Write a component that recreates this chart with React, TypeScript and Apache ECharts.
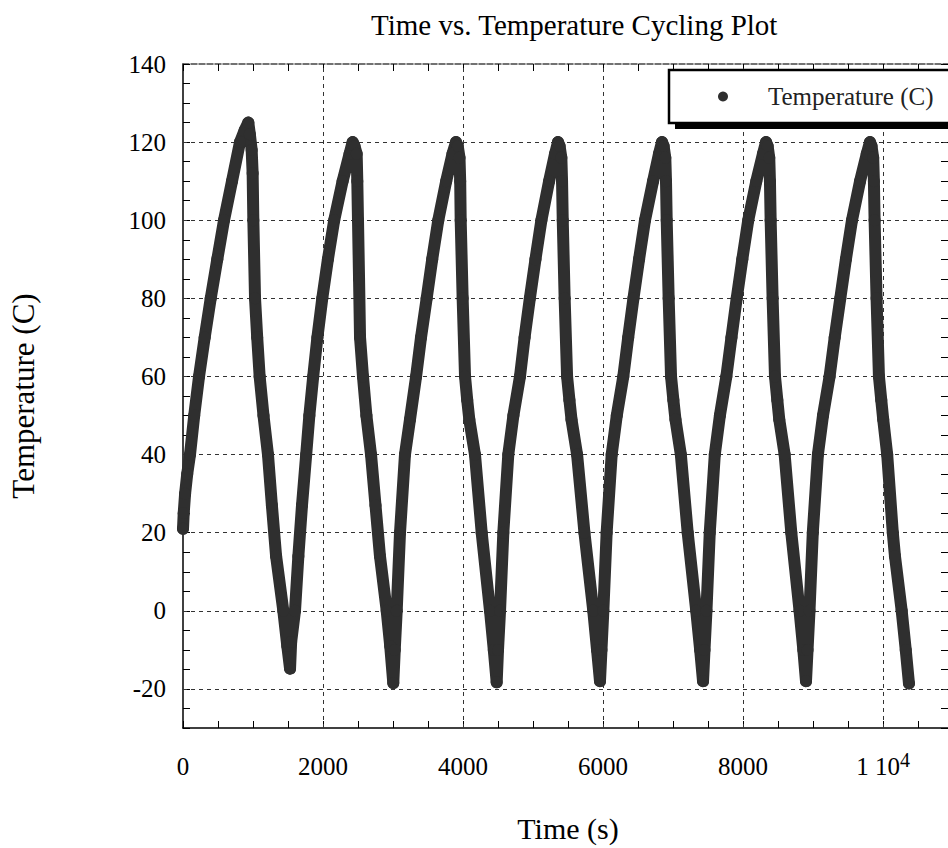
import React, { useEffect, useRef } from "react";
import * as echarts from "echarts";

const FONT = "'Liberation Serif', 'Times New Roman', Times, serif";

// [time (s), temperature (C)], one array per cycle
const cycle1: [number, number][] = [
  [0, 21], [10, 25], [30, 30], [60, 35], [100, 40], [160, 50], [229, 60], [310, 70],
  [396, 80], [490, 90], [586, 100], [700, 110], [814, 120], [880, 123], [933, 125],
  [955, 122], [981, 118], [995, 112], [1005, 100], [1029, 80], [1060, 70], [1095, 60],
  [1150, 50], [1214, 40], [1270, 27], [1330, 14], [1433, 0], [1490, -9], [1529, -14.8],
];
const cycle2: [number, number][] = [
  [1545, -8], [1600, 0], [1648, 14], [1700, 27], [1760, 40], [1805, 50], [1860, 60],
  [1920, 70], [1990, 80], [2070, 90], [2160, 100], [2280, 110], [2380, 117], [2424, 120],
  [2450, 119], [2481, 117], [2490, 110], [2500, 100], [2515, 85], [2529, 70], [2571, 60],
  [2620, 50], [2686, 40], [2750, 27], [2814, 14], [2910, 0], [2960, -9], [3004, -18.5],
];
const cycle3: [number, number][] = [
  [3025, -10], [3053, 0], [3100, 20], [3171, 40], [3243, 49], [3330, 60], [3400, 70],
  [3481, 80], [3560, 90], [3647, 100], [3760, 110], [3850, 117], [3900, 120], [3925, 119],
  [3950, 116], [3960, 110], [3967, 100], [3995, 80], [4029, 60], [4060, 54], [4090, 49],
  [4171, 40], [4267, 20], [4386, 0], [4440, -10], [4481, -18.3],
];
const cycle4: [number, number][] = [
  [4500, -10], [4529, 0], [4576, 20], [4647, 40], [4720, 50], [4814, 60], [4880, 70],
  [4955, 80], [5035, 90], [5120, 100], [5230, 110], [5315, 117], [5357, 120], [5380, 119],
  [5405, 116], [5415, 110], [5425, 100], [5452, 80], [5487, 60], [5520, 54], [5550, 49],
  [5630, 40], [5735, 20], [5861, 0], [5915, -10], [5957, -18],
];
const cycle5: [number, number][] = [
  [5978, -10], [6005, 0], [6052, 20], [6124, 40], [6197, 50], [6290, 60], [6360, 70],
  [6435, 80], [6515, 90], [6600, 100], [6715, 110], [6800, 117], [6843, 120], [6866, 119],
  [6890, 116], [6900, 110], [6910, 100], [6938, 80], [6972, 60], [7005, 54], [7035, 49],
  [7112, 40], [7210, 20], [7332, 0], [7388, -10], [7429, -18],
];
const cycle6: [number, number][] = [
  [7450, -10], [7478, 0], [7525, 20], [7597, 40], [7670, 50], [7762, 60], [7835, 70],
  [7910, 80], [7990, 90], [8075, 100], [8190, 110], [8285, 117], [8329, 120], [8352, 119],
  [8375, 116], [8385, 110], [8395, 100], [8423, 80], [8457, 60], [8490, 54], [8518, 49],
  [8595, 40], [8690, 20], [8808, 0], [8862, -10], [8900, -18],
];
const cycle7: [number, number][] = [
  [8922, -10], [8950, 0], [8997, 20], [9070, 40], [9143, 50], [9237, 60], [9310, 70],
  [9390, 80], [9470, 90], [9557, 100], [9672, 110], [9768, 117], [9814, 120], [9836, 119],
  [9860, 116], [9870, 110], [9880, 100], [9908, 80], [9942, 60], [9975, 54], [10003, 49],
  [10060, 40], [10140, 20], [10171, 14], [10267, 0], [10325, -10], [10371, -18.6],
];

const temperatureData = [...cycle1, ...cycle2, ...cycle3, ...cycle4, ...cycle5, ...cycle6, ...cycle7];

const xLabelTicks = [0, 2000, 4000, 6000, 8000, 10000];
const yLabelTicks = [-20, 0, 20, 40, 60, 80, 100, 120, 140];
const xGridLines = [2000, 4000, 6000, 8000, 10000];
const yGridLines = [-20, 0, 20, 40, 60, 80, 100, 120];

const SERIES_NAME = "Temperature (C)";
const DOT = "#2f2f2f";

export default function App() {
  const ref = useRef<HTMLDivElement>(null);

  useEffect(() => {
    if (!ref.current) return;
    const chart = echarts.init(ref.current, undefined, { renderer: "svg" });
    const tickBase = { show: true, inside: true, length: 7, lineStyle: { color: "#000", width: 1 } };
    const option: any = {
      animation: false,
      backgroundColor: "#fff",
      title: {
        text: "Time vs. Temperature Cycling Plot",
        left: 366,
        top: 5,
        textStyle: { fontFamily: FONT, fontSize: 29, fontWeight: "normal", color: "#000" },
      },
      legend: {
        data: [SERIES_NAME],
        left: 718,
        top: 84,
        padding: 0,
        icon: "circle",
        itemWidth: 10,
        itemHeight: 10,
        selectedMode: false,
        z: 10,
        textStyle: { fontFamily: FONT, fontSize: 25, color: "#222", padding: [0, 0, 0, 35] },
      },
      graphic: [
        { type: "rect", z: 5, shape: { x: 675, y: 76, width: 320, height: 53 }, style: { fill: "#000" } },
        { type: "rect", z: 6, shape: { x: 669, y: 70, width: 320, height: 53 }, style: { fill: "#fff", stroke: "#000", lineWidth: 2.5 } },
      ],
      grid: { left: 183, top: 64, width: 770, height: 667, containLabel: false },
      xAxis: [
        {
          type: "value",
          min: 0,
          max: 11000,
          interval: 500,
          name: "Time (s)",
          nameLocation: "middle",
          nameGap: 85,
          nameTextStyle: { fontFamily: FONT, fontSize: 30, color: "#000" },
          axisLine: { show: true, onZero: false, lineStyle: { color: "#000", width: 1.5 } },
          axisTick: tickBase,
          splitLine: { show: false },
          axisLabel: {
            margin: 22,
            fontFamily: FONT,
            fontSize: 25,
            lineHeight: 33,
            color: "#000",
            formatter: (v: number) =>
              xLabelTicks.includes(v) ? (v === 10000 ? "1 10{sup|4}" : String(v)) : "",
            rich: { sup: { fontFamily: FONT, fontSize: 20, lineHeight: 20, color: "#000", verticalAlign: "top" } },
          },
        },
        {
          type: "value",
          position: "top",
          min: 0,
          max: 11000,
          interval: 500,
          axisLine: { show: true, onZero: false, lineStyle: { color: "#444", width: 1.5, type: [6, 2] } },
          axisTick: tickBase,
          axisLabel: { show: false },
          splitLine: { show: false },
        },
      ],
      yAxis: [
        {
          type: "value",
          min: -30,
          max: 140,
          interval: 5,
          name: "Temperature (C)",
          nameLocation: "middle",
          nameRotate: 90,
          nameGap: 144,
          nameTextStyle: { fontFamily: FONT, fontSize: 31, color: "#000" },
          axisLine: { show: true, onZero: false, lineStyle: { color: "#000", width: 1.5 } },
          axisTick: tickBase,
          splitLine: { show: false },
          axisLabel: {
            margin: 17,
            fontFamily: FONT,
            fontSize: 25,
            color: "#000",
            formatter: (v: number) => (yLabelTicks.includes(v) ? String(v) : ""),
          },
        },
        {
          type: "value",
          position: "right",
          min: -30,
          max: 140,
          interval: 5,
          axisLine: { show: true, onZero: false, lineStyle: { color: "#000", width: 1.5 } },
          axisTick: { ...tickBase, length: 12 },
          axisLabel: { show: false },
          splitLine: { show: false },
        },
      ],
      series: [
        {
          type: "line",
          name: SERIES_NAME,
          xAxisIndex: 0,
          yAxisIndex: 0,
          data: temperatureData,
          symbol: "circle",
          symbolSize: 12,
          showSymbol: true,
          z: 3,
          lineStyle: { width: 12, color: DOT, cap: "round", join: "round" },
          itemStyle: { color: DOT },
          emphasis: { disabled: true },
          markLine: {
            silent: true,
            z: 1,
            symbol: ["none", "none"],
            label: { show: false },
            emphasis: { disabled: true },
            lineStyle: { type: [4, 4], color: "#333", width: 1 },
            data: [
              ...xGridLines.map((v) => ({ xAxis: v })),
              ...yGridLines.map((v) => ({ yAxis: v })),
            ],
          },
        },
      ],
    };
    chart.setOption(option);
    return () => chart.dispose();
  }, []);

  return (
    <div style={{ position: "fixed", left: 0, top: 0, width: 948, height: 848, overflow: "hidden", background: "#fff" }}>
      <div ref={ref} style={{ width: 960, height: 848 }} />
    </div>
  );
}
